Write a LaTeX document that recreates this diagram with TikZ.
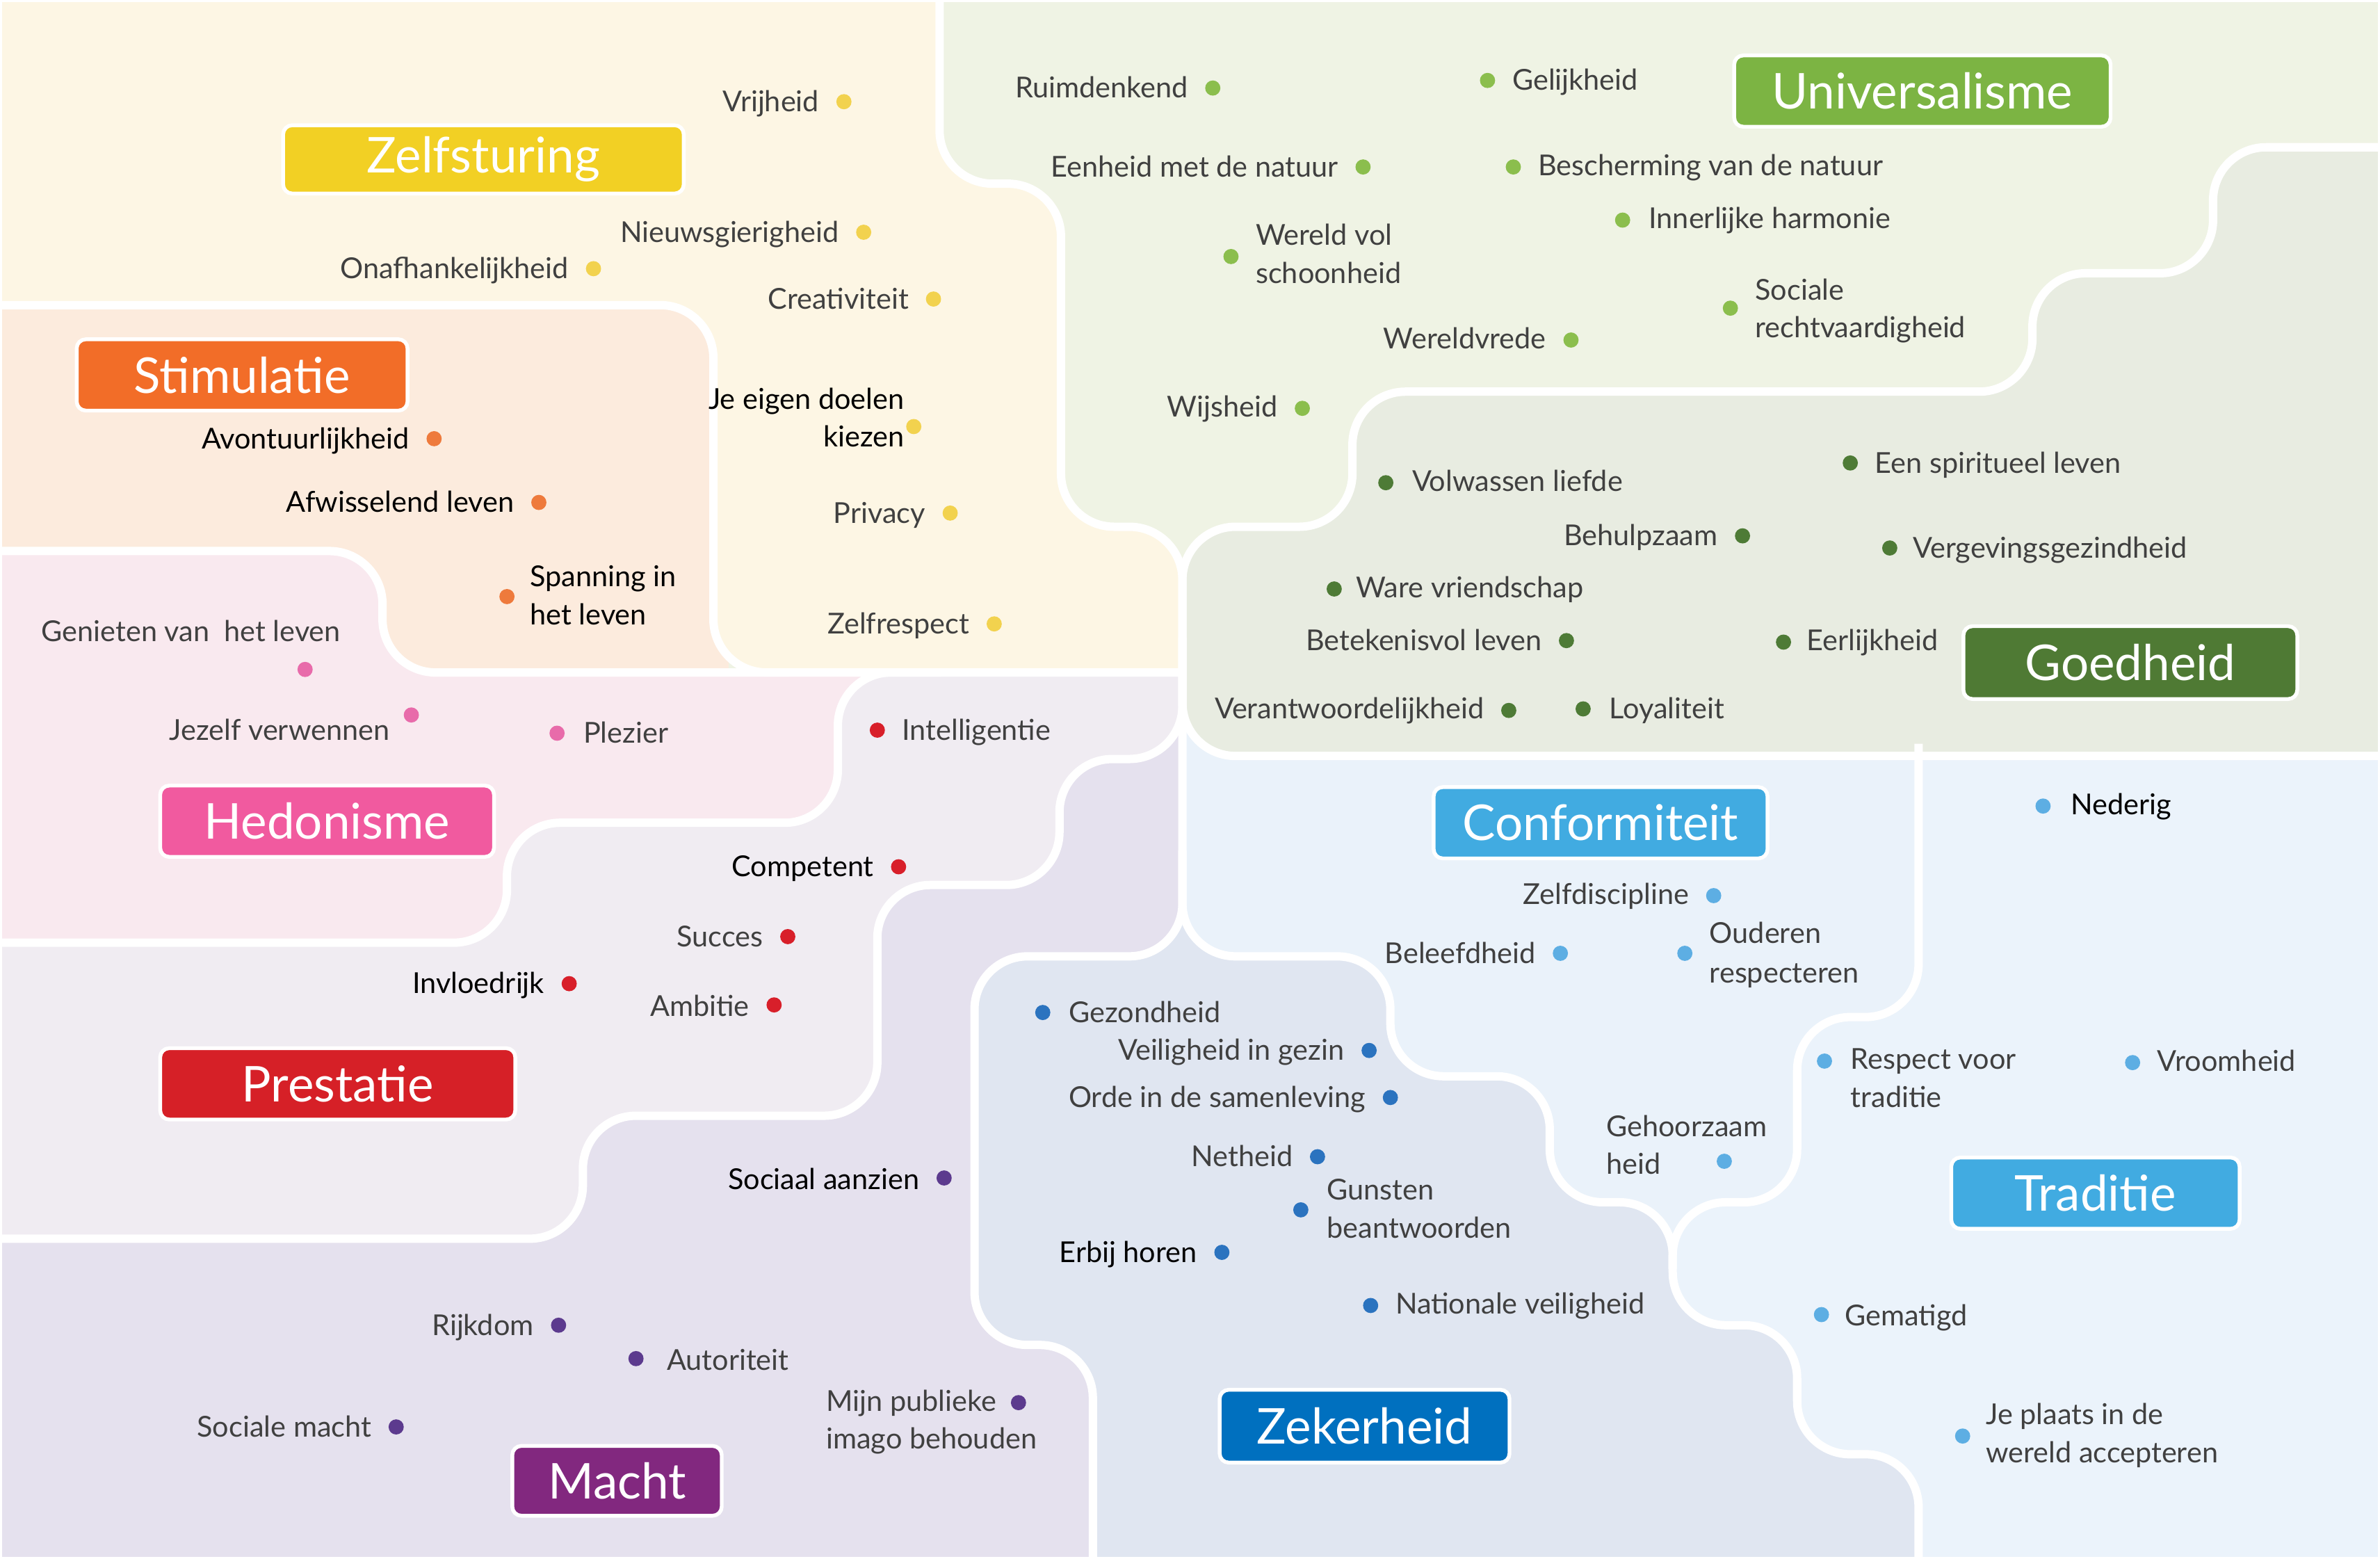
\documentclass[tikz,border=0pt]{standalone}
\usepackage{fontspec}
\setmainfont{Lato}
\definecolor{cU}{HTML}{EFF3E4}
\definecolor{cG}{HTML}{E8ECE1}
\definecolor{cZS}{HTML}{FDF6E4}
\definecolor{cS}{HTML}{FCEBDD}
\definecolor{cH}{HTML}{F9E9EF}
\definecolor{cP}{HTML}{F0ECF2}
\definecolor{cM}{HTML}{E5E1EE}
\definecolor{cC}{HTML}{EAF2FA}
\definecolor{cT}{HTML}{EBF3FB}
\definecolor{cZ}{HTML}{E0E6F1}
\definecolor{lZS}{HTML}{F2D024}
\definecolor{lS}{HTML}{F26D28}
\definecolor{lH}{HTML}{F15A9F}
\definecolor{lP}{HTML}{D62027}
\definecolor{lM}{HTML}{82287F}
\definecolor{lU}{HTML}{7CB443}
\definecolor{lG}{HTML}{4F7A34}
\definecolor{lC}{HTML}{41ABE1}
\definecolor{lZ}{HTML}{0070BF}
\definecolor{dZS}{HTML}{F2D24E}
\definecolor{dS}{HTML}{EE7A3C}
\definecolor{dH}{HTML}{E86BAA}
\definecolor{dP}{HTML}{D81F2A}
\definecolor{dM}{HTML}{5C3A8E}
\definecolor{dU}{HTML}{8BBE4D}
\definecolor{dG}{HTML}{4E7B36}
\definecolor{dC}{HTML}{5DAEE3}
\definecolor{dZ}{HTML}{2B73BF}
\definecolor{txtgray}{HTML}{404040}
\newcommand\myitemfont{\fontsize{10.8}{13}\selectfont}
\newcommand\mylblfont{\fontsize{18.5}{22}\selectfont}
\tikzset{
  reg/.style={rounded corners=0.7cm},
  bnd/.style={draw=white, line width=0.11cm, rounded corners=0.7cm},
  itm/.style={font=\myitemfont, text=txtgray, inner sep=0pt},
  itmb/.style={itm, text=black},
  dot/.style={circle, inner sep=0pt, minimum size=0.2cm, draw=none},
  lbl/.style={rounded corners=0.12cm, draw=white, line width=0.05cm, text=white, font=\mylblfont, inner sep=0pt},
  ew/.style={anchor=base east},
  ww/.style={anchor=base west}
}
\begin{document}
\begin{tikzpicture}[x=0.02cm, y=-0.02cm]
\useasboundingbox (0,0) rectangle (1568,1027);
\begin{scope}
\clip (0,0) rectangle (1568,1027);
% ---------- region fills ----------
\fill[cU] (-20,-20) rectangle (1590,1050);
\fill[cC] (760,420) rectangle (1590,1050);
\fill[cT,reg] (1400,420) -- (1600,420) -- (1600,1080) -- (1264,1080) -- (1264,958) -- (1184,958) -- (1184,873) -- (1102,873) -- (1102,792) -- (1184,792) -- (1184,670) -- (1264,670) -- (1264,420) -- cycle;
\fill[cZ,reg] (700,630) -- (916,630) -- (916,709) -- (1021,709) -- (1021,792) -- (1102,792) -- (1102,873) -- (1184,873) -- (1184,958) -- (1264,958) -- (1264,1080) -- (720,1080) -- (720,886) -- (642,886) -- (642,630) -- cycle;
\fill[cZ] (744,595) rectangle (814,632);
\fill[cC,reg] (1000,420) -- (1264,420) -- (1264,630) -- (779,630) -- (779,420) -- cycle;
\fill[cG,reg] (1100,498) -- (1600,498) -- (1600,97) -- (1458,97) -- (1458,180) -- (1339,180) -- (1339,258) -- (891,258) -- (891,347) -- (779,347) -- (779,498) -- cycle;
\fill[cS] (-20,190) rectangle (480,460);
\fill[cH,reg] (100,363) -- (252,363) -- (252,443) -- (640,443) -- (640,575) -- (360,575) -- (360,640) -- (-40,640) -- (-40,363) -- cycle;
\fill[cM,reg] (779,500) -- (779,630) -- (642,630) -- (642,886) -- (720,886) -- (720,1080) -- (-40,1080) -- (-40,800) -- (360,800) -- (360,720) -- (560,720) -- (560,570) -- (680,570) -- (680,420) -- (779,420) -- cycle;
\fill[cP,reg] (600,443) -- (680,443) -- (680,360) -- (779,360) -- (779,500) -- (698,500) -- (698,583) -- (578,583) -- (578,735) -- (384,735) -- (384,816) -- (-40,816) -- (-40,621) -- (334,621) -- (334,542) -- (552,542) -- (552,443) -- cycle;
\fill[cZS,reg] (300,-40) -- (619,-40) -- (619,121) -- (699,121) -- (699,347) -- (779,347) -- (779,443) -- (470,443) -- (470,201) -- (-40,201) -- (-40,-40) -- cycle;
\fill[cZS] (740,405) rectangle (779.5,443.2);
% ---------- boundary lines ----------
\draw[bnd] (619,-10) -- (619,121) -- (699,121) -- (699,347) -- (779,347) -- (779,630) -- (642,630) -- (642,886) -- (720,886) -- (720,1040);
\draw[bnd] (1580,97) -- (1458,97) -- (1458,180) -- (1339,180) -- (1339,258) -- (891,258) -- (891,347) -- (779,347) -- (779,498) -- (1580,498);
\draw[bnd] (779,560) -- (779,630) -- (916,630) -- (916,709) -- (1021,709) -- (1021,792) -- (1102,792) -- (1102,873) -- (1184,873) -- (1184,958) -- (1264,958) -- (1264,1040);
\draw[bnd] (1264,490) -- (1264,670) -- (1184,670) -- (1184,792) -- (1102,792) -- (1102,836);
\draw[bnd] (-10,201) -- (470,201) -- (470,443) -- (779,443);
\draw[bnd] (-10,363) -- (252,363) -- (252,443) -- (520,443);
\draw[bnd] (620,443) -- (552,443) -- (552,542) -- (334,542) -- (334,621) -- (-10,621);
\draw[bnd] (779,420) -- (779,500) -- (698,500) -- (698,583) -- (578,583) -- (578,735) -- (384,735) -- (384,816) -- (-10,816);
\end{scope}
\draw[white, line width=0.06cm] (0,0) rectangle (1568,1027);
% ---------- category labels ----------
\node[lbl, fill=lZS, minimum width=5.28cm, minimum height=0.9cm] (Lzs) at (318.5,105) {Zelfsturing};
\node[lbl, fill=lS, minimum width=4.36cm, minimum height=0.94cm] (Ls) at (159.5,247) {Stimulatie};
\node[lbl, fill=lH, minimum width=4.4cm, minimum height=0.94cm] (Lh) at (215.5,541) {Hedonisme};
\node[lbl, fill=lP, minimum width=4.68cm, minimum height=0.94cm] (Lp) at (222.5,714) {Prestatie};
\node[lbl, fill=lM, minimum width=2.76cm, minimum height=0.92cm] (Lm) at (406.5,975.5) {Macht};
\node[lbl, fill=lU, minimum width=4.96cm, minimum height=0.94cm] (Lu) at (1266.5,60) {Universalisme};
\node[lbl, fill=lG, minimum width=4.4cm, minimum height=0.96cm] (Lg) at (1403.5,436.5) {Goedheid};
\node[lbl, fill=lC, minimum width=4.4cm, minimum height=0.94cm] (Lc) at (1054.5,542) {Conformiteit};
\node[lbl, fill=lC, minimum width=3.8cm, minimum height=0.94cm] (Lt) at (1380.5,786) {Traditie};
\node[lbl, fill=lZ, minimum width=3.82cm, minimum height=0.96cm] (Lz) at (899,939.5) {Zekerheid};
% ---------- Zelfsturing ----------
\node[dot,fill=dZS] (d1) at (556,67) {}; \node[itm,ew] (t1) at (540,73.5) {Vrijheid};
\node[dot,fill=dZS] (d2) at (569,153) {}; \node[itm,ew] (t2) at (553,159.5) {Nieuwsgierigheid};
\node[dot,fill=dZS] (d3) at (391,177) {}; \node[itm,ew] (t3) at (375,183.5) {Onafhankelijkheid};
\node[dot,fill=dZS] (d4) at (615,197) {}; \node[itm,ew] (t4) at (599,203.5) {Creativiteit};
\node[dot,fill=dZS] (d5) at (602,281) {}; \node[itmb,ew] (t5a) at (596,269.5) {Je eigen doelen}; \node[itmb,ew] (t5b) at (596,294.5) {kiezen};
\node[dot,fill=dZS] (d6) at (626,338) {}; \node[itm,ew] (t6) at (610,344.5) {Privacy};
\node[dot,fill=dZS] (d7) at (655,411) {}; \node[itm,ew] (t7) at (639,417.5) {Zelfrespect};
% ---------- Stimulatie ----------
\node[dot,fill=dS] (d8) at (286,289) {}; \node[itmb,ew] (t8) at (270,295.5) {Avontuurlijkheid};
\node[dot,fill=dS] (d9) at (355,331) {}; \node[itmb,ew] (t9) at (339,337.5) {Afwisselend leven};
\node[dot,fill=dS] (d10) at (334,393) {}; \node[itmb,ww] (t10a) at (349,386.5) {Spanning in}; \node[itmb,ww] (t10b) at (349,411.5) {het leven};
% ---------- Hedonisme ----------
\node[dot,fill=dH] (d11) at (201,441) {}; \node[itm,ww] (t11) at (27,422.5) {Genieten van\ \ het leven};
\node[dot,fill=dH] (d12) at (271,471) {}; \node[itm,ew] (t12) at (257,487.5) {Jezelf verwennen};
\node[dot,fill=dH] (d13) at (367,483) {}; \node[itm,ww] (t13) at (384,489.5) {Plezier};
% ---------- Prestatie ----------
\node[dot,fill=dP] (d14) at (578,481) {}; \node[itm,ww] (t14) at (594,487.5) {Intelligentie};
\node[dot,fill=dP] (d15) at (592,571) {}; \node[itmb,ew] (t15) at (576,577.5) {Competent};
\node[dot,fill=dP] (d16) at (519,617) {}; \node[itm,ew] (t16) at (503,623.5) {Succes};
\node[dot,fill=dP] (d17) at (375,648) {}; \node[itmb,ew] (t17) at (359,654.5) {Invloedrijk};
\node[dot,fill=dP] (d18) at (510,662) {}; \node[itm,ew] (t18) at (494,669.5) {Ambitie};
% ---------- Macht ----------
\node[dot,fill=dM] (d19) at (622,776) {}; \node[itmb,ew] (t19) at (606,783.5) {Sociaal aanzien};
\node[dot,fill=dM] (d20) at (368,873) {}; \node[itm,ew] (t20) at (352,879.5) {Rijkdom};
\node[dot,fill=dM] (d21) at (419,895) {}; \node[itm,ww] (t21) at (439,902.5) {Autoriteit};
\node[dot,fill=dM] (d22) at (671,924) {}; \node[itm,ww] (t22a) at (544,929.5) {Mijn publieke}; \node[itm,ww] (t22b) at (544,954.5) {imago behouden};
\node[dot,fill=dM] (d23) at (261,940) {}; \node[itm,ew] (t23) at (245,946.5) {Sociale macht};
% ---------- Universalisme ----------
\node[dot,fill=dU] (d24) at (799,58) {}; \node[itm,ew] (t24) at (783,64.5) {Ruimdenkend};
\node[dot,fill=dU] (d25) at (980,53) {}; \node[itm,ww] (t25) at (996,59.5) {Gelijkheid};
\node[dot,fill=dU] (d26) at (898,110) {}; \node[itm,ew] (t26) at (882,116.5) {Eenheid met de natuur};
\node[dot,fill=dU] (d27) at (997,110) {}; \node[itm,ww] (t27) at (1013,115.5) {Bescherming van de natuur};
\node[dot,fill=dU] (d28) at (1069,145) {}; \node[itm,ww] (t28) at (1086,150.5) {Innerlijke harmonie};
\node[dot,fill=dU] (d29) at (811,169) {}; \node[itm,ww] (t29a) at (827,161.5) {Wereld vol}; \node[itm,ww] (t29b) at (827,186.5) {schoonheid};
\node[dot,fill=dU] (d30) at (1140,203) {}; \node[itm,ww] (t30a) at (1156,197.5) {Sociale}; \node[itm,ww] (t30b) at (1156,222.5) {rechtvaardigheid};
\node[dot,fill=dU] (d31) at (1035,224) {}; \node[itm,ew] (t31) at (1019,229.5) {Wereldvrede};
\node[dot,fill=dU] (d32) at (858,269) {}; \node[itm,ew] (t32) at (842,274.5) {Wijsheid};
% ---------- Goedheid ----------
\node[dot,fill=dG] (d33) at (1219,305) {}; \node[itm,ww] (t33) at (1235,311.5) {Een spiritueel leven};
\node[dot,fill=dG] (d34) at (913,318) {}; \node[itm,ww] (t34) at (930,323.5) {Volwassen liefde};
\node[dot,fill=dG] (d35) at (1148,353) {}; \node[itm,ew] (t35) at (1132,359.5) {Behulpzaam};
\node[dot,fill=dG] (d36) at (1245,361) {}; \node[itm,ww] (t36) at (1260,367.5) {Vergevingsgezindheid};
\node[dot,fill=dG] (d37) at (879,388) {}; \node[itm,ww] (t37) at (893,393.5) {Ware vriendschap};
\node[dot,fill=dG] (d38) at (1032,422) {}; \node[itm,ew] (t38) at (1016,428.5) {Betekenisvol leven};
\node[dot,fill=dG] (d39) at (1175,423) {}; \node[itm,ww] (t39) at (1190,428.5) {Eerlijkheid};
\node[dot,fill=dG] (d40) at (994,468) {}; \node[itm,ew] (t40) at (978,473.5) {Verantwoordelijkheid};
\node[dot,fill=dG] (d41) at (1043,467) {}; \node[itm,ww] (t41) at (1060,473.5) {Loyaliteit};
% ---------- Conformiteit ----------
\node[dot,fill=dC] (d42) at (1129,590) {}; \node[itm,ew] (t42) at (1113,595.5) {Zelfdiscipline};
\node[dot,fill=dC] (d43) at (1028,628) {}; \node[itm,ew] (t43) at (1012,634.5) {Beleefdheid};
\node[dot,fill=dC] (d44) at (1110,628) {}; \node[itm,ww] (t44a) at (1126,621.5) {Ouderen}; \node[itm,ww] (t44b) at (1126,647.5) {respecteren};
\node[dot,fill=dC] (d45) at (1136,765) {}; \node[itm,ww] (t45a) at (1058,748.5) {Gehoorzaam}; \node[itm,ww] (t45b) at (1058,773.5) {heid};
% ---------- Traditie ----------
\node[dot,fill=dC] (d46) at (1346,531) {}; \node[itmb,ww] (t46) at (1364,536.5) {Nederig};
\node[dot,fill=dC] (d47) at (1202,699) {}; \node[itm,ww] (t47a) at (1219,704.5) {Respect voor}; \node[itm,ww] (t47b) at (1219,729.5) {traditie};
\node[dot,fill=dC] (d48) at (1405,700) {}; \node[itm,ww] (t48) at (1421,705.5) {Vroomheid};
\node[dot,fill=dC] (d49) at (1200,866) {}; \node[itm,ww] (t49) at (1215,873.5) {Gematigd};
\node[dot,fill=dC] (d50) at (1293,946) {}; \node[itm,ww] (t50a) at (1308,938.5) {Je plaats in de}; \node[itm,ww] (t50b) at (1308,963.5) {wereld accepteren};
% ---------- Zekerheid ----------
\node[dot,fill=dZ] (d51) at (687,667) {}; \node[itm,ww] (t51) at (704,673.5) {Gezondheid};
\node[dot,fill=dZ] (d52) at (902,692) {}; \node[itm,ew] (t52) at (886,698.5) {Veiligheid in gezin};
\node[dot,fill=dZ] (d53) at (916,723) {}; \node[itm,ew] (t53) at (900,729.5) {Orde in de samenleving};
\node[dot,fill=dZ] (d54) at (868,762) {}; \node[itm,ew] (t54) at (852,768.5) {Netheid};
\node[dot,fill=dZ] (d55) at (857,797) {}; \node[itm,ww] (t55a) at (874,790.5) {Gunsten}; \node[itm,ww] (t55b) at (874,815.5) {beantwoorden};
\node[dot,fill=dZ] (d56) at (805,825) {}; \node[itmb,ew] (t56) at (789,831.5) {Erbij horen};
\node[dot,fill=dZ] (d57) at (903,860) {}; \node[itm,ww] (t57) at (919,865.5) {Nationale veiligheid};
\end{tikzpicture}
\end{document}
